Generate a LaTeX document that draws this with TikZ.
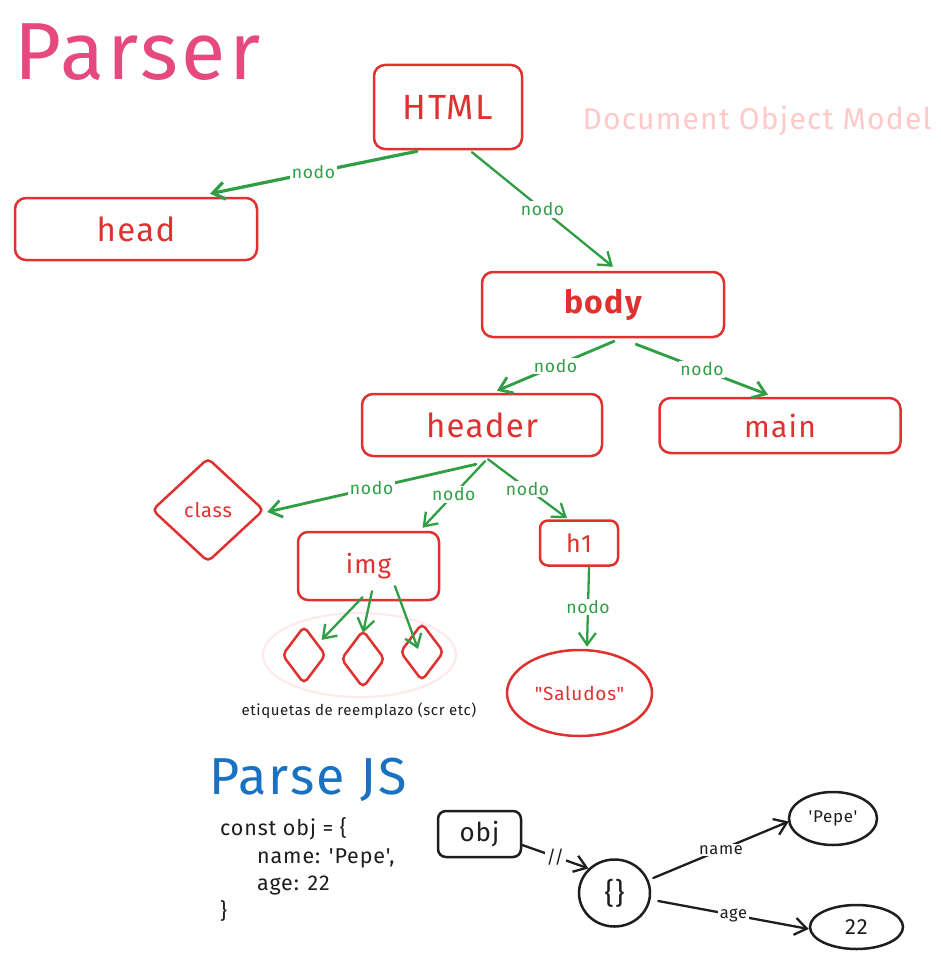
\documentclass[tikz,border=0pt]{standalone}
\usepackage{fontspec}
\setmainfont{Fira Sans}[Ligatures=TeXOff, LetterSpace=4]
\usetikzlibrary{arrows.meta,shapes.geometric,calc}
\definecolor{xred}{HTML}{E03131}
\definecolor{xgreen}{HTML}{2F9E44}
\definecolor{xpink}{HTML}{E64980}
\definecolor{xlpink}{HTML}{FFC9C9}
\definecolor{xfaint}{HTML}{FFE8E8}
\definecolor{xblue}{HTML}{1971C2}
\definecolor{xblack}{HTML}{1E1E1E}
\newcommand{\fs}[1]{\fontsize{#1}{#1}\selectfont}
\begin{document}
\begin{tikzpicture}[x=1pt,y=-1pt,
  rbox/.style={draw=xred, line width=2.5pt, rounded corners=11pt, text=xred, inner sep=0pt, font=\fs{33}},
  rdia/.style={diamond, draw=xred, line width=2.5pt, rounded corners=5pt, inner sep=0pt},
  gline/.style={draw=xgreen, line width=2.3pt, line cap=round, -{Straight Barb[length=12pt,width=17pt]}},
  kline/.style={draw=xblack, line width=2.3pt, line cap=round, -{Straight Barb[length=12pt,width=17pt]}},
  lbl/.style={fill=white, inner sep=1.5pt, text=xgreen, font=\fs{17.5}},
  klbl/.style={fill=white, inner sep=1.5pt, text=xblack, font=\fs{16.5}},
  kell/.style={ellipse, draw=xblack, line width=2.5pt, inner sep=0pt, text=xblack},
  code/.style={anchor=base west, inner sep=0pt, text=xblack, font=\fs{21.5}}
]
\fill[white] (0,0) rectangle (941,958);
\useasboundingbox (0,0) rectangle (941,958);

% titles
\node[anchor=base west, inner sep=0pt, text=xpink, font=\fs{81}] (parser) at (14,80) {Parser};
\node[inner sep=0pt, text=xlpink, font=\fs{30}] (dom) at (757,121) {Document Object Model};

% faint grouping ellipse
\node[ellipse, draw=xfaint, line width=2pt, minimum width=193pt, minimum height=84pt] (grp) at (359.5,655) {};

% DOM nodes
\node[rbox, minimum width=148pt, minimum height=84pt, font=\fs{35}] (html) at (448,107) {HTML};
\node[rbox, minimum width=242pt, minimum height=62pt] (head) at (136,229) {head};
\node[rbox, minimum width=242pt, minimum height=65pt, font=\fs{32}\bfseries] (body) at (603,304.5) {body};
\node[rbox, minimum width=240pt, minimum height=62pt] (header) at (482,425) {header};
\node[rbox, minimum width=241pt, minimum height=55pt, font=\fs{30}] (main) at (780,425.5) {main};
\node[rdia, minimum width=112pt, minimum height=104pt, text=xred, font=\fs{20}] (class) at (208,510) {class};
\node[rbox, minimum width=141pt, minimum height=68pt, font=\fs{26}, rounded corners=10pt] (img) at (368.5,566) {img};
\node[rbox, minimum width=78pt, minimum height=45pt, font=\fs{25}, rounded corners=8pt] (h1) at (579,543) {h1};
\node[ellipse, draw=xred, line width=2.5pt, inner sep=0pt, minimum width=145pt, minimum height=86pt, text=xred, font=\fs{19}] (sal) at (579.5,693) {"Saludos"};
\node[rdia, minimum width=44pt, minimum height=58pt] (d1) at (304,655) {};
\node[rdia, minimum width=44pt, minimum height=58pt] (d2) at (363,659) {};
\node[rdia, minimum width=44pt, minimum height=58pt] (d3) at (422,652) {};
\node[inner sep=0pt, text=xblack, font=\fs{15}] (etq) at (359,711) {etiquetas de reemplazo (scr etc)};

% DOM connectors
\draw[gline, line width=3.2pt] ($(html.south)+(-31,1)$) -- node[lbl]{nodo} ($(head.north)+(74,-3)$);
\draw[gline] ($(html.south)+(24,2)$) -- node[lbl]{nodo} ($(body.north)+(10,-4)$);
\draw[gline, line width=2.8pt] ($(body.south)+(11,3)$) -- node[lbl]{nodo} ($(header.north)+(15,-2)$);
\draw[gline, line width=2.8pt] ($(body.south)+(33,6)$) -- node[lbl]{nodo} ($(main.north)+(-12,-2)$);
\draw[gline, line width=2.8pt] ($(header.south)+(-6,7)$) -- node[lbl]{nodo} ($(class.east)+(2,2)$);
\draw[gline] ($(header.south)+(3,4)$) -- node[lbl]{nodo} ($(img.north)+(54,-3)$);
\draw[gline] ($(header.south)+(6,2)$) -- node[lbl]{nodo} ($(h1.north)+(-12,-1)$);
\draw[gline] ($(h1.south)+(10,1)$) -- node[lbl]{nodo} ($(sal.north)+(7.5,-2)$);
\draw[gline] ($(img.south)+(-6,-4)$) -- ($(d1.north east)+(6,0)$);
\draw[gline] ($(img.south)+(3.5,-10)$) -- ($(d2.north)+(0,4)$);
\draw[gline] ($(img.south)+(26.5,-15)$) -- ($(d3.center)+(-4,-3)$);

% Parse JS
\node[anchor=base west, inner sep=0pt, text=xblue, font=\fs{52}] (pjs) at (209,794) {Parse JS};
\node[code] (c1) at (220,835) {const obj = \{};
\node[code] (c2) at (257,863) {name: 'Pepe',};
\node[code] (c3) at (257,890) {age: 22};
\node[code] (c4) at (220,918) {\}};

\node[draw=xblack, line width=2.5pt, rounded corners=8pt, minimum width=83pt, minimum height=46pt, inner sep=0pt, text=xblack, font=\fs{26}] (obj) at (479.5,834) {obj};
\node[kell, minimum width=71pt, minimum height=67pt, font=\fs{29}] (ob) at (614.5,893) {\{\}};
\node[kell, minimum width=88pt, minimum height=53pt, font=\fs{17}] (pepe) at (833,818.5) {'Pepe'};
\node[kell, minimum width=93pt, minimum height=44pt, font=\fs{22}] (n22) at (856.5,927) {22};

\draw[kline] ($(obj.east)+(0,11)$) -- node[klbl, font=\fs{18}]{//} (ob.north west);
\draw[kline] ($(ob.east)+(2,-15)$) -- node[klbl]{name} ($(pepe.west)+(1,3)$);
\draw[kline] ($(ob.east)+(7,8)$) -- node[klbl]{age} ($(n22.west)+(0,2)$);
\end{tikzpicture}
\end{document}
